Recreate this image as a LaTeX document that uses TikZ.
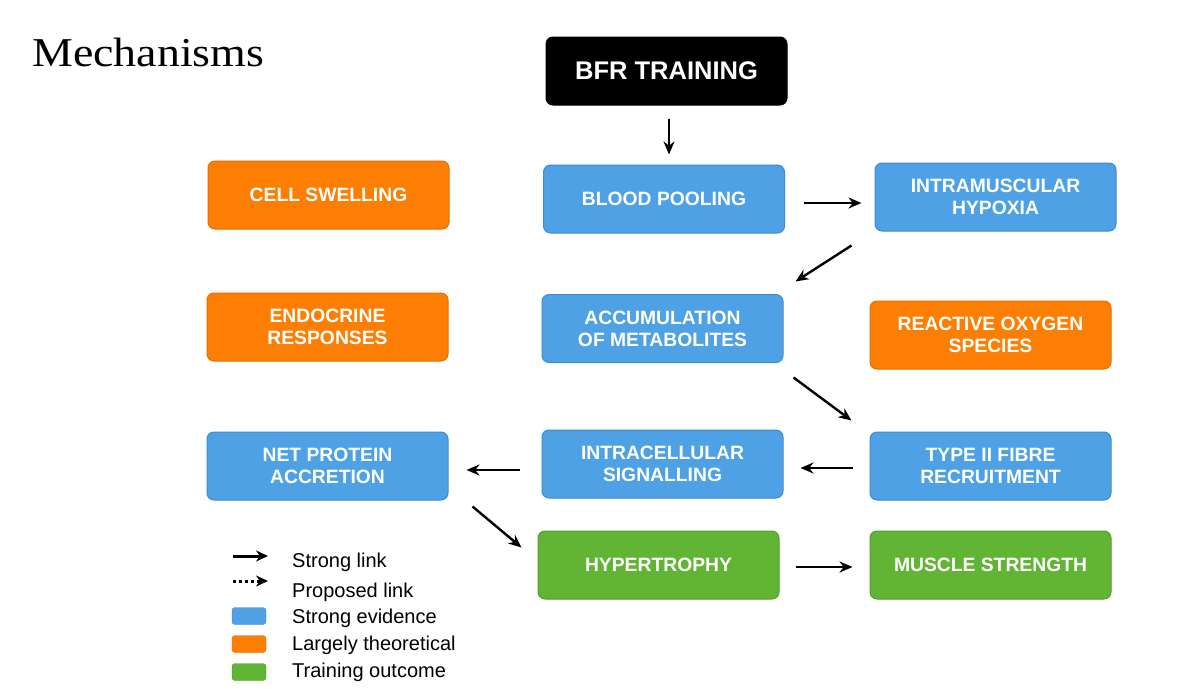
\documentclass[tikz,border=0pt]{standalone}
\usepackage{fontspec}
\setmainfont{Liberation Sans}
\newfontfamily\titlefont{Liberation Serif}
\usetikzlibrary{arrows.meta}
\definecolor{bluebox}{RGB}{78,161,228}
\definecolor{blueedge}{RGB}{60,140,210}
\definecolor{orangebox}{RGB}{252,126,2}
\definecolor{orangeedge}{RGB}{230,110,0}
\definecolor{greenbox}{RGB}{98,180,52}
\definecolor{greenedge}{RGB}{80,160,40}
\tikzset{
  box/.style={rounded corners=7pt, minimum width=241pt, minimum height=68pt,
    inner sep=0pt, text=white, align=center, line width=1pt,
    font=\fontsize{19.3}{22}\selectfont\bfseries},
  bluenode/.style={box, fill=bluebox, draw=blueedge},
  orangenode/.style={box, fill=orangebox, draw=orangeedge},
  greennode/.style={box, fill=greenbox, draw=greenedge},
  link/.style={line width=2.4pt, -{Stealth[length=13pt,width=11pt]}},
  legtext/.style={anchor=west, inner sep=0pt, font=\fontsize{20}{22}\selectfont},
  keybox/.style={rounded corners=3pt, minimum width=34pt, minimum height=17pt, inner sep=0pt},
}
\begin{document}
\begin{tikzpicture}[x=1pt,y=-1pt]
\useasboundingbox (0,0) rectangle (1188,688);
\fill[white] (0,0) rectangle (1188,688);
\node[anchor=west, inner sep=0pt, font=\titlefont\fontsize{41}{44}\selectfont] (title) at (32,52) {\scalebox{1.12}[1]{Mechanisms}};

\node[box, fill=black, draw=black, font=\fontsize{25.5}{28}\selectfont\bfseries] (bfr) at (666.5,71) {BFR TRAINING};

\node[orangenode] (cell) at (328.5,195) {CELL SWELLING};
\node[bluenode] (pool) at (664,199) {BLOOD POOLING};
\node[bluenode] (hyp) at (995.5,197) {INTRAMUSCULAR\\HYPOXIA};

\node[orangenode] (endo) at (327.5,327) {ENDOCRINE\\RESPONSES};
\node[bluenode] (acc) at (662.5,328.5) {ACCUMULATION\\OF METABOLITES};
\node[orangenode] (ros) at (990.5,335) {REACTIVE OXYGEN\\SPECIES};

\node[bluenode] (net) at (327.5,466) {NET PROTEIN\\ACCRETION};
\node[bluenode] (sig) at (662.5,464) {INTRACELLULAR\\SIGNALLING};
\node[bluenode] (type) at (990.5,466) {TYPE II FIBRE\\RECRUITMENT};

\node[greennode] (hyper) at (658.5,565) {HYPERTROPHY};
\node[greennode] (str) at (990.5,565) {MUSCLE STRENGTH};

\draw[link] ([shift={(2.5,13)}]bfr.south) -- ([shift={(5,-10)}]pool.north);
\draw[link] ([shift={(18.5,4)}]pool.east) -- ([shift={(-13,6)}]hyp.west);
\draw[link] ([shift={(-23,14)}]hyp.south west) -- ([shift={(12,-12.5)}]acc.north east);
\draw[link] ([shift={(10,14.5)}]acc.south east) -- ([shift={(-18,-11)}]type.north west);
\draw[link] ([shift={(-17,2)}]type.west) -- ([shift={(17,4)}]sig.east);
\draw[link] ([shift={(-22,6)}]sig.west) -- ([shift={(18,4)}]net.east);
\draw[link] ([shift={(24,6)}]net.south east) -- ([shift={(-16,17)}]hyper.north west);
\draw[link] ([shift={(16,2)}]hyper.east) -- ([shift={(-17,2)}]str.west);

% legend
\coordinate (l1a) at (233,556); \coordinate (l1b) at (268,556);
\coordinate (l2a) at (233,581); \coordinate (l2b) at (268,581);
\draw[line width=3pt, -{Stealth[length=12pt,width=11pt]}] (l1a) -- (l1b);
\draw[line width=3pt, dash pattern=on 3pt off 3pt, -{Stealth[length=12pt,width=11pt]}] (l2a) -- (l2b);
\node[legtext] (t1) at (292,562) {Strong link};
\node[legtext] (t2) at (292,592) {Proposed link};
\node[keybox, fill=bluebox, draw=blueedge] (k1) at (249,616) {};
\node[keybox, fill=orangebox, draw=orangeedge] (k2) at (249,644) {};
\node[keybox, fill=greenbox, draw=greenedge] (k3) at (249,672) {};
\node[legtext] (t3) at (292,618) {Strong evidence};
\node[legtext] (t4) at (292,645) {Largely theoretical};
\node[legtext] (t5) at (292,672) {Training outcome};
\end{tikzpicture}
\end{document}
